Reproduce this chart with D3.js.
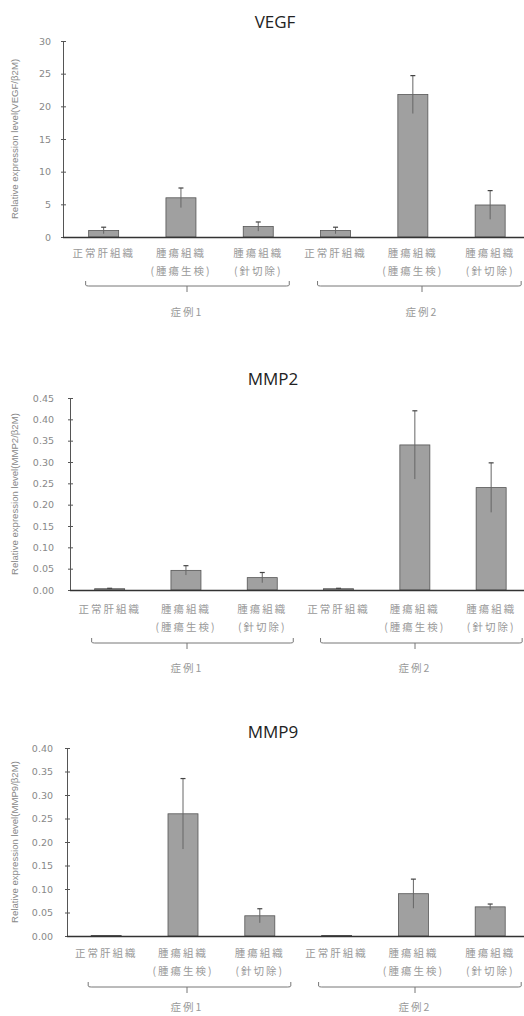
<!DOCTYPE html>
<html>
<head>
<meta charset="utf-8">
<script src="https://cdn.jsdelivr.net/npm/d3@7"></script>
<style>
    body { margin: 0; background: #fff; }
    svg { display: block; }
</style>
</head>
<body>
<svg id="chart" width="524" height="1016"></svg>
<script>

// Data

const categoryLine1 = ["正常肝組織", "腫瘍組織", "腫瘍組織", "正常肝組織", "腫瘍組織", "腫瘍組織"];
const categoryLine2 = ["", "(腫瘍生検)", "(針切除)", "", "(腫瘍生検)", "(針切除)"];
const groups = ["症例1", "症例2"];

const vegfValues = [1.0, 6.0, 1.6, 1.0, 21.8, 4.9];
const vegfErrors = [0.5, 1.5, 0.7, 0.5, 2.9, 2.2];
const vegfTicks = [0, 5, 10, 15, 20, 25, 30];

const mmp2Values = [0.003, 0.046, 0.029, 0.003, 0.340, 0.240];
const mmp2Errors = [0.001, 0.011, 0.012, 0.001, 0.080, 0.058];
const mmp2Ticks = [0, 0.05, 0.10, 0.15, 0.20, 0.25, 0.30, 0.35, 0.40, 0.45];

const mmp9Values = [0.001, 0.260, 0.043, 0.001, 0.090, 0.062];
const mmp9Errors = [0.000, 0.075, 0.015, 0.000, 0.031, 0.006];
const mmp9Ticks = [0, 0.05, 0.10, 0.15, 0.20, 0.25, 0.30, 0.35, 0.40];

// Layout per panel

const panels = [
    { title: "VEGF", label: "Relative expression level(VEGF/β2M)", values: vegfValues, errors: vegfErrors,
      ticks: vegfTicks, max: 30, fmt: d3.format("d"),
      titleX: 275, titleY: 22, axisX: 63, y0: 237, yTop: 41, bandX: 65, step: 77.3,
      tickPad: 9, line1: 16, line2: 34, braceY: 49, groupY: 75, group2X: 422 },
    { title: "MMP2", label: "Relative expression level(MMP2/β2M)", values: mmp2Values, errors: mmp2Errors,
      ticks: mmp2Ticks, max: 0.45, fmt: d3.format(".2f"),
      titleX: 273, titleY: 379, axisX: 70, y0: 590, yTop: 398, bandX: 71.5, step: 76.3,
      tickPad: 13, line1: 19, line2: 37, braceY: 53, groupY: 78, group2X: 415 },
    { title: "MMP9", label: "Relative expression level(MMP9/β2M)", values: mmp9Values, errors: mmp9Errors,
      ticks: mmp9Ticks, max: 0.40, fmt: d3.format(".2f"),
      titleX: 273, titleY: 732, axisX: 67, y0: 936, yTop: 748, bandX: 67.8, step: 76.8,
      tickPad: 11, line1: 17, line2: 35, braceY: 51, groupY: 71, group2X: 415 }
];

const svg = d3.select("#chart");
const cjk = "'Noto Sans CJK JP', 'Noto Sans CJK SC', sans-serif";
const barWidth = 30;

function drawPanel(p) {

    const g = svg.append("g").classed("panel", true);
    const idx = d3.range(p.values.length);

    const x = d3.scaleBand()
        .domain(idx)
        .range([p.bandX, p.bandX + idx.length * p.step])
        .paddingInner(1 - barWidth / p.step)
        .paddingOuter((1 - barWidth / p.step) / 2);

    const y = d3.scaleLinear()
        .domain([0, p.max])
        .range([p.y0, p.yTop]);

    // Title
    g.append("text")
        .attr("x", p.titleX)
        .attr("y", p.titleY)
        .attr("dy", "0.35em")
        .attr("text-anchor", "middle")
        .attr("font-family", "'Open Sans', sans-serif")
        .attr("font-size", 17)
        .attr("fill", "#222")
        .text(p.title);

    // Y axis
    g.append("g")
        .attr("transform", `translate(${p.axisX},0)`)
        .call(d3.axisLeft(y).tickValues(p.ticks).tickFormat(p.fmt).tickSize(3).tickPadding(p.tickPad))
        .call(a => a.select(".domain").attr("stroke", "#555").attr("d", `M0.5,${p.yTop}V${p.y0}`))
        .call(a => a.selectAll(".tick line").attr("stroke", "#555").attr("x2", 3).attr("x1", -2))
        .call(a => a.selectAll(".tick text")
            .attr("fill", "#888")
            .attr("font-family", "'DejaVu Sans', sans-serif")
            .attr("font-size", 9.5));

    // Y axis label
    g.append("text")
        .attr("transform", `translate(15,${(p.y0 + p.yTop) / 2}) rotate(-90)`)
        .attr("text-anchor", "middle")
        .attr("dy", "0.35em")
        .attr("font-family", "'Liberation Sans', sans-serif")
        .attr("font-size", 9.6)
        .attr("fill", "#888")
        .text(p.label);

    // Bars
    g.selectAll("rect.bar")
        .data(idx)
        .join("rect")
            .classed("bar", true)
            .attr("x", i => x(i))
            .attr("y", i => y(p.values[i]))
            .attr("width", x.bandwidth())
            .attr("height", i => p.y0 - y(p.values[i]))
            .attr("fill", "#a0a0a0")
            .attr("stroke", "#555")
            .attr("stroke-width", 0.8);

    // Error bars (a line down through the bar, cap only on top)
    const err = g.selectAll("g.err")
        .data(idx.filter(i => p.errors[i] > 0))
        .join("g")
            .classed("err", true)
            .attr("transform", i => `translate(${x(i) + x.bandwidth() / 2},0)`);
    err.append("line")
        .attr("y1", i => y(Math.max(0, p.values[i] - p.errors[i])))
        .attr("y2", i => y(p.values[i] + p.errors[i]))
        .attr("stroke", "#666")
        .attr("stroke-width", 1);
    err.append("line")
        .attr("x1", -2.5)
        .attr("x2", 2.5)
        .attr("y1", i => y(p.values[i] + p.errors[i]))
        .attr("y2", i => y(p.values[i] + p.errors[i]))
        .attr("stroke", "#444")
        .attr("stroke-width", 1.2);

    // X axis baseline
    g.append("line")
        .attr("x1", p.axisX)
        .attr("x2", 524)
        .attr("y1", p.y0 + 0.5)
        .attr("y2", p.y0 + 0.5)
        .attr("stroke", "#333")
        .attr("stroke-width", 1.4);

    // Category labels
    const cat = g.selectAll("g.cat")
        .data(idx)
        .join("g")
            .classed("cat", true)
            .attr("transform", i => `translate(${x(i) + x.bandwidth() / 2},${p.y0})`)
            .attr("text-anchor", "middle")
            .attr("font-family", cjk)
            .attr("font-size", 10.5)
            .attr("letter-spacing", 2)
            .attr("fill", "#999");
    cat.append("text")
        .attr("y", p.line1)
        .attr("dy", "0.35em")
        .text(i => categoryLine1[i]);
    cat.append("text")
        .attr("y", p.line2)
        .attr("dy", "0.35em")
        .text(i => categoryLine2[i]);

    // Group braces and labels
    const groupSpans = [
        { name: groups[0], left: x(0) + x.bandwidth() / 2 - 18, right: x(2) + x.bandwidth() / 2 + 31, cx: 187 },
        { name: groups[1], left: x(3) + x.bandwidth() / 2 - 18, right: x(5) + x.bandwidth() / 2 + 31, cx: p.group2X }
    ];
    const by = p.y0 + p.braceY;
    const brace = g.selectAll("g.group")
        .data(groupSpans)
        .join("g")
            .classed("group", true);
    brace.append("path")
        .attr("d", d => `M${d.left},${by - 5}L${d.left},${by - 1}Q${d.left},${by} ${d.left + 3},${by}` +
            `L${d.right - 3},${by}Q${d.right},${by} ${d.right},${by - 1}L${d.right},${by - 5}` +
            `M${d.cx},${by}L${d.cx},${by + 6}`)
        .attr("fill", "none")
        .attr("stroke", "#777")
        .attr("stroke-width", 1);
    brace.append("text")
        .attr("x", d => d.cx)
        .attr("y", p.y0 + p.groupY)
        .attr("dy", "0.35em")
        .attr("text-anchor", "middle")
        .attr("font-family", cjk)
        .attr("font-size", 10.5)
        .attr("letter-spacing", 2)
        .attr("fill", "#999")
        .text(d => d.name);
}

panels.forEach(drawPanel);

</script>
</body>
</html>
